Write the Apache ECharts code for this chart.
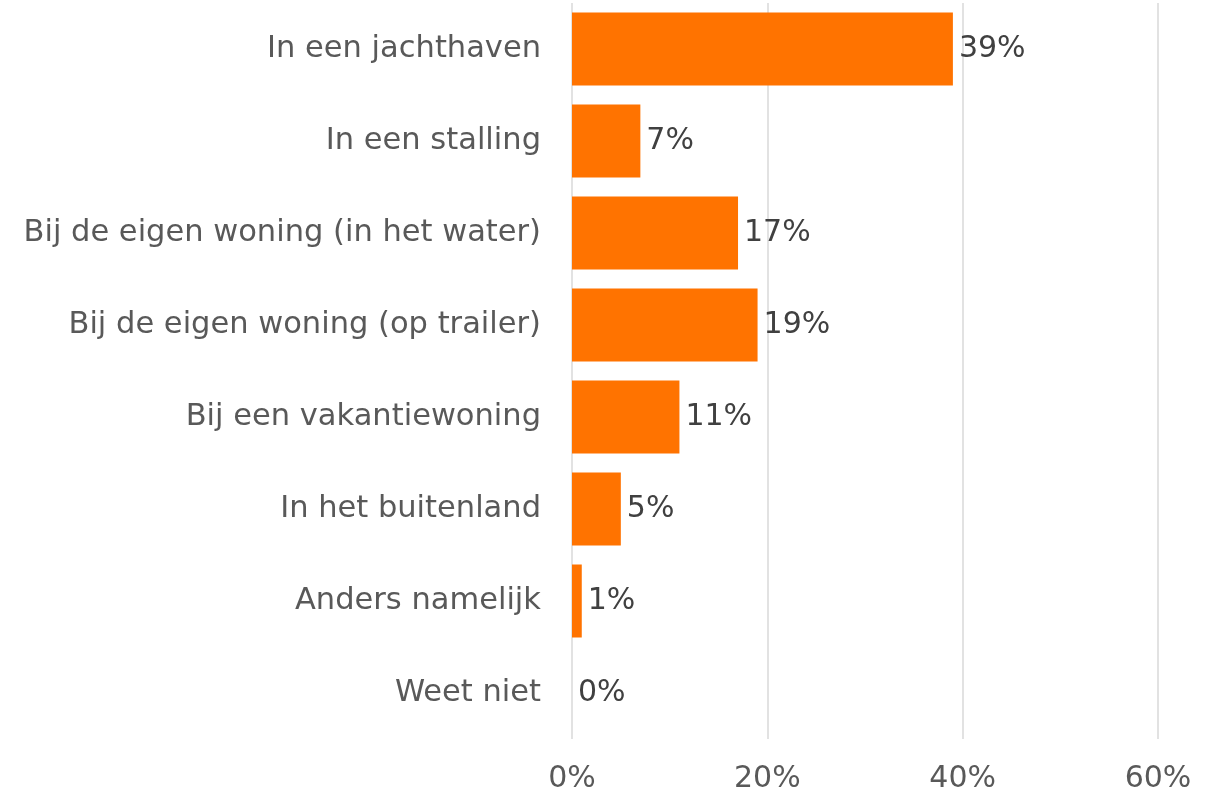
<!DOCTYPE html>
<html lang="nl" style="height: 100%">
<head>
  <meta charset="utf-8">
</head>
<body style="height: 100%; margin: 0; background: #fff">
  <div id="container" style="height: 100%"></div>

  <script type="text/javascript" src="https://cdn.jsdelivr.net/npm/echarts@6/dist/echarts.min.js"></script>
  <script type="text/javascript">
    // categories top -> bottom as in the picture
    var categories = [
      'In een jachthaven',
      'In een stalling',
      'Bij de eigen woning (in het water)',
      'Bij de eigen woning (op trailer)',
      'Bij een vakantiewoning',
      'In het buitenland',
      'Anders namelijk',
      'Weet niet'
    ];
    var values = [39, 7, 17, 19, 11, 5, 1, 0];
    var xTicks = [0, 20, 40, 60];

    var dom = document.getElementById('container');
    var myChart = echarts.init(dom, null, { renderer: 'canvas' });

    var font = '"DejaVu Sans", sans-serif';
    var grey = '#595959';

    var option = {
      animation: false,
      grid: { left: 572, right: 48, top: 3, bottom: 58, containLabel: false },
      xAxis: {
        type: 'value',
        min: xTicks[0],
        max: xTicks[xTicks.length - 1],
        interval: 20,
        axisLine: { show: false },
        axisTick: { show: false },
        splitLine: { show: true, lineStyle: { color: '#d9d9d9', width: 1.5 } },
        axisLabel: {
          margin: 25,
          color: grey,
          fontFamily: font,
          fontSize: 30,
          formatter: '{value}%'
        }
      },
      yAxis: {
        type: 'category',
        inverse: true,
        data: categories,
        axisLine: { show: false },
        axisTick: { show: false },
        axisLabel: {
          margin: 31,
          color: grey,
          fontFamily: font,
          fontSize: 30.5,
          padding: [3, 0, 0, 0]
        }
      },
      series: [{
        type: 'bar',
        data: values,
        barWidth: 73,
        itemStyle: { color: '#FF7300' },
        label: {
          show: true,
          position: 'right',
          distance: 6,
          color: '#404040',
          fontFamily: font,
          fontSize: 30,
          formatter: '{c}%'
        }
      }]
    };

    myChart.setOption(option);
    window.addEventListener('resize', myChart.resize);
  </script>
</body>
</html>
